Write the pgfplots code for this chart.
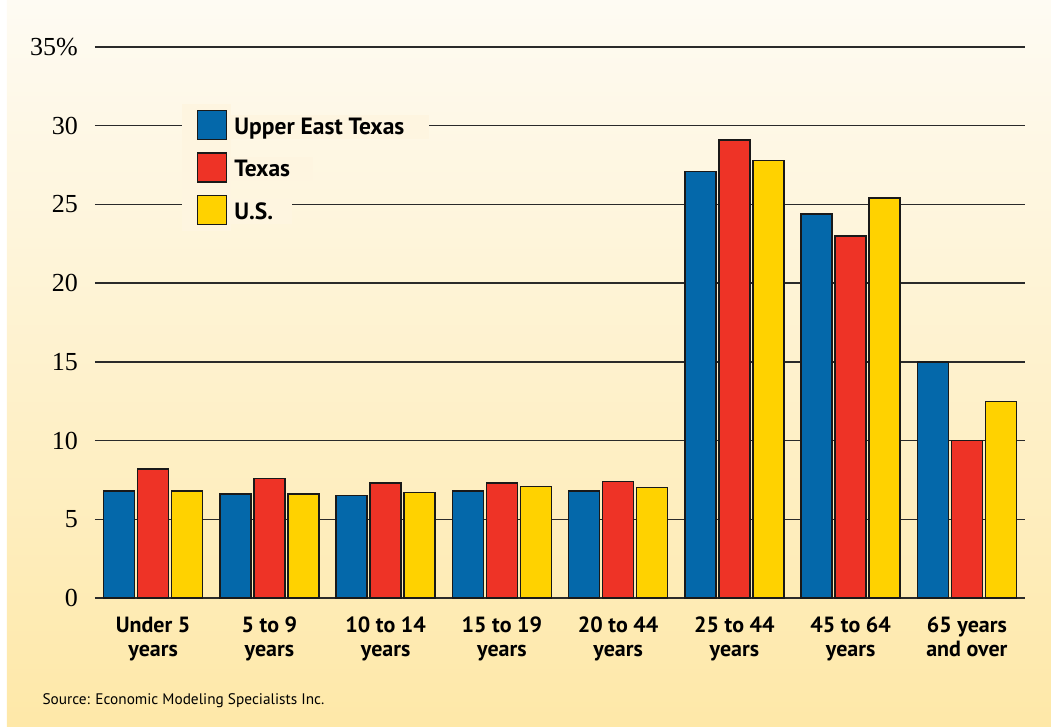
\documentclass[border=0pt]{standalone}
\usepackage{pgfplots}
\pgfplotsset{compat=1.18}
\usepackage{fontspec}
\setmainfont{Liberation Serif}
\newfontfamily\labelfont{PT Sans}
\usetikzlibrary{backgrounds}
\definecolor{cblue}{HTML}{0468AA}
\definecolor{cred}{HTML}{EE3326}
\definecolor{cyel}{HTML}{FFD200}
\definecolor{bgtop}{HTML}{FEFBF3}
\definecolor{bgbot}{HTML}{FEE8A8}
\definecolor{legbg}{HTML}{FEF5E0}
\definecolor{gridc}{HTML}{2A2A2A}
\pgfplotsset{
  mylegend/.style={legend image code/.code={%
    \fill[legbg] (-15pt,-19pt) rectangle (33pt,22pt);
    \draw[##1,line width=1.3pt] (0pt,-13pt) rectangle (29pt,16pt);}},
}
\begin{document}
\begin{tikzpicture}
\begin{axis}[
  scale only axis, width=930pt, height=551pt,
  ymin=0, ymax=35, xmin=-0.5, xmax=7.5,
  ybar=3pt, bar width=31pt,
  axis line style={draw=none},
  ytick={0,5,...,35}, yticklabels={0,5,10,15,20,25,30,35\%},
  major tick length=0pt,
  ymajorgrids, grid style={gridc, line width=1.5pt},
  xtick={0,...,7},
  xticklabels={{Under 5\\years},{5 to 9\\years},{10 to 14\\years},{15 to 19\\years},{20 to 44\\years},{25 to 44\\years},{45 to 64\\years},{65 years\\and over}},
  xticklabel style={font=\labelfont\bfseries\fontsize{22}{24}\selectfont, align=center, inner sep=0pt, anchor=north, yshift=-19pt},
  yticklabel style={font=\fontsize{26}{26}\selectfont, inner sep=0pt, anchor=east, xshift=-17pt},
  /pgf/number format/assume math mode=true,
  every axis plot/.append style={draw=black!90, line width=1.3pt},
  every axis plot post/.append style={mylegend},
  legend cell align=left,
  legend style={at={(0.0935,0.8966)}, anchor=north west, draw=none, fill=none, inner sep=0pt, row sep=0pt,
    nodes={fill=legbg, inner xsep=3pt, inner ysep=3pt, font=\labelfont\bfseries\fontsize{23.5}{23.5}\selectfont}},
]
\addplot[fill=cblue] coordinates {(0,6.8) (1,6.6) (2,6.5) (3,6.8) (4,6.8) (5,27.1) (6,24.4) (7,15.0)};
\addlegendentry{Upper East Texas\hspace*{22pt}}
\addplot[fill=cred] coordinates {(0,8.2) (1,7.6) (2,7.3) (3,7.3) (4,7.4) (5,29.1) (6,23.0) (7,10.0)};
\addlegendentry{Texas\hspace*{20pt}}
\addplot[fill=cyel] coordinates {(0,6.8) (1,6.6) (2,6.7) (3,7.1) (4,7.0) (5,27.8) (6,25.4) (7,12.5)};
\addlegendentry{U.S.\hspace*{16pt}}
\end{axis}
\begin{scope}[on background layer]
\shade[top color=bgtop, bottom color=bgbot] ([xshift=-88pt,yshift=-128pt]current axis.south west) rectangle ([xshift=26pt,yshift=47pt]current axis.north east);
\end{scope}
\node[anchor=base west, font=\labelfont\fontsize{15.3}{15.3}\selectfont] at ([xshift=-56pt,yshift=-106pt]current axis.south west) {Source: Economic Modeling Specialists Inc.};
\pgfresetboundingbox
\useasboundingbox ([xshift=-95pt,yshift=-128pt]current axis.south west) rectangle ([xshift=26pt,yshift=47pt]current axis.north east);
\end{tikzpicture}
\end{document}
